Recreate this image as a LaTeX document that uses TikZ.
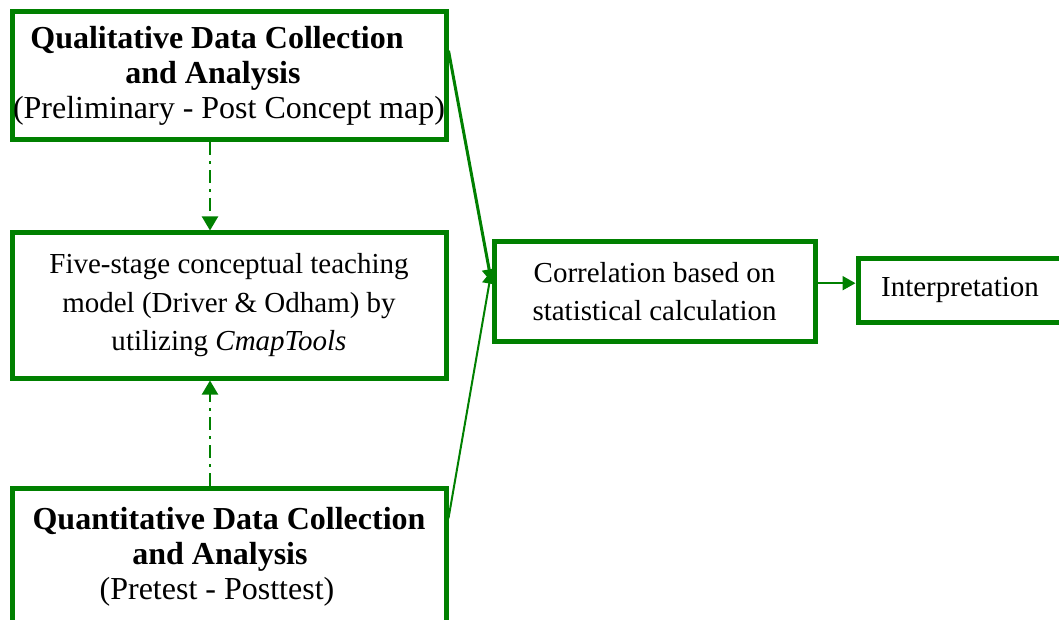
\documentclass[tikz,border=0pt]{standalone}
\usepackage{fontspec}
\setmainfont{Liberation Serif}
\usetikzlibrary{calc,arrows.meta}
\definecolor{flowgreen}{RGB}{0,128,0}

\begin{document}
\begin{tikzpicture}[x=1pt,y=-1pt,
  box/.style={draw=flowgreen, line width=5pt, rectangle, inner sep=0pt,
    align=center, fill=white},
  headfont/.style={font=\fontsize{32}{35}\selectfont},
  bodyfont/.style={font=\fontsize{29}{38.5}\selectfont},
  dotdash/.style={draw=flowgreen, line width=2pt,
    dash pattern=on 13pt off 6pt on 3pt off 6pt,
    -{Triangle[width=16pt,length=14pt]}},
  link/.style={draw=flowgreen, -{Triangle[width=14pt,length=13pt]}}
]
\useasboundingbox (0,0) rectangle (1059,620);
\fill[white] (0,0) rectangle (1059,620);

% left column of method boxes
\node[box, headfont, minimum width=434pt, minimum height=128pt] (qual) at (229,76)
  {\textbf{Qualitative Data Collection}\kern24pt\\\textbf{and Analysis}\kern32pt\\(Preliminary - Post Concept map)};
\node[box, bodyfont, minimum width=434pt, minimum height=145pt] (model) at (229,305.5)
  {Five-stage conceptual teaching\\model (Driver \& Odham) by\\utilizing \textit{CmapTools}};
\node[box, headfont, minimum width=434pt, minimum height=137pt] (quant) at (229,556.5)
  {\textbf{Quantitative Data Collection}\\\textbf{and Analysis}\kern18pt\\(Pretest - Posttest)\kern24pt};

% right-hand result chain
\node[box, bodyfont, minimum width=321pt, minimum height=99pt] (corr) at (654.5,291.5)
  {Correlation based on\\statistical calculation};
\node[box, bodyfont, minimum width=204pt, minimum height=64pt] (interp) at (960,290)
  {Interpretation};

% dash-dot links into the teaching model
\coordinate (qualdown) at ($(qual.south)+(-19,0)$);
\coordinate (quantup) at ($(quant.north)+(-19,0)$);
\draw[dotdash] (qualdown) -- (model.north -| qualdown);
\draw[dotdash] (quantup) -- (model.south -| quantup);

% both data strands feed the correlation
\coordinate (qualout) at ($(qual.north east)!0.31!(qual.south east)$);
\coordinate (quantout) at ($(quant.north east)!0.23!(quant.south east)$);
\coordinate (corrinA) at ($(corr.north west)!0.41!(corr.south west)$);
\coordinate (corrinB) at ($(corr.north west)!0.30!(corr.south west)$);
\draw[link, line width=3pt] (qualout) -- (corrinA);
\draw[link, line width=2pt] (quantout) -- (corrinB);

% correlation leads to interpretation
\coordinate (corrout) at ($(corr.north east)!0.42!(corr.south east)$);
\draw[link, line width=2pt] (corrout) -- (interp.west |- corrout);
\end{tikzpicture}
\end{document}
